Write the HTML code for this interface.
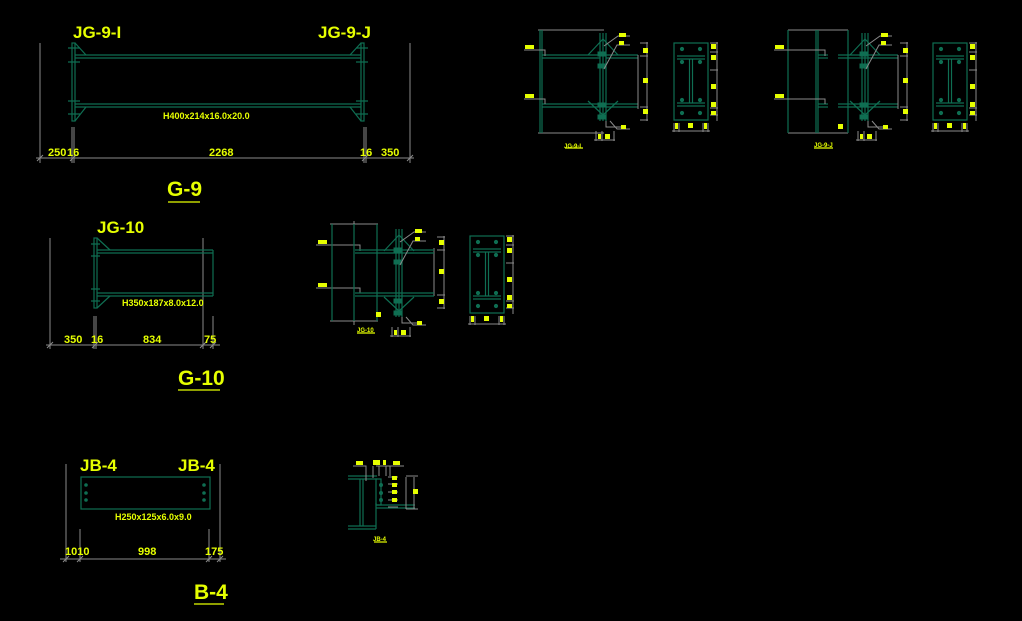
<!DOCTYPE html>
<html><head><meta charset="utf-8"><style>
html,body{margin:0;padding:0;background:#000;width:1022px;height:621px;overflow:hidden}
svg{display:block}
text{font-family:"Liberation Sans",sans-serif;fill:#e6ff00;font-weight:bold}
.g{stroke:#0f6e52;fill:none;stroke-width:1.2}
.gg{stroke:#0f6e52;fill:#0f6e52}
.d{stroke:#8a8a8a;fill:none;stroke-width:1}
.y{fill:#e6ff00}
.u{stroke:#e6ff00;stroke-width:1.2}
</style></head><body>
<svg width="1022" height="621" viewBox="0 0 1022 621">
<defs>
<g id="plate">
 <rect class="g" x="0" y="0" width="34" height="77"/>
 <line class="g" x1="3" y1="13" x2="31" y2="13"/><line class="g" x1="3" y1="16" x2="31" y2="16"/>
 <line class="g" x1="3" y1="60" x2="31" y2="60"/><line class="g" x1="3" y1="63" x2="31" y2="63"/>
 <line class="g" x1="15.5" y1="16" x2="15.5" y2="60"/><line class="g" x1="18.5" y1="16" x2="18.5" y2="60"/>
 <g class="gg"><circle cx="8" cy="6" r="1.6"/><circle cx="26" cy="6" r="1.6"/><circle cx="8" cy="19" r="1.6"/><circle cx="26" cy="19" r="1.6"/><circle cx="8" cy="57" r="1.6"/><circle cx="26" cy="57" r="1.6"/><circle cx="8" cy="70" r="1.6"/><circle cx="26" cy="70" r="1.6"/></g>
 <path class="d" d="M36 0H44M36 9H44M36 27H44M36 65H44M36 72H44M43 -1V78M0 80V89M5 80V89M29 80V89M34 80V89M-2 88H36"/>
 <rect class="y" x="37" y="1" width="5" height="5"/><rect class="y" x="37" y="12" width="5" height="5"/><rect class="y" x="37" y="41" width="5" height="5"/><rect class="y" x="37" y="59" width="5" height="5"/><rect class="y" x="37" y="68" width="5" height="4"/>
 <rect class="y" x="1" y="80" width="3" height="6"/><rect class="y" x="14" y="80" width="5" height="5"/><rect class="y" x="30" y="80" width="3" height="6"/>
</g>
<g id="conn">
 <line class="g" x1="0" y1="0" x2="0" y2="88"/><line class="g" x1="3" y1="0" x2="3" y2="88"/><line class="g" x1="6" y1="0" x2="6" y2="88"/>
 <path class="g" d="M3 6 L-12 22 M3 6 L18 22 M3 82 L-12 68 M3 82 L18 68"/>
 <rect class="gg" x="-2" y="19" width="7" height="4"/><rect class="gg" x="-2" y="31" width="7" height="4"/><rect class="gg" x="-2" y="70" width="7" height="4"/><rect class="gg" x="-2" y="82" width="7" height="4"/>
 <path class="d" d="M4 13 L18 3 H30 M4 36 L17 12 H30 M6 88 V94 H25 M10 88 L17 96 H30"/>
 <rect class="y" x="19" y="0" width="7" height="4"/><rect class="y" x="19" y="8" width="5" height="4"/><rect class="y" x="21" y="92" width="5" height="4"/>
 <rect class="y" x="-2" y="101" width="3" height="5"/><rect class="y" x="5" y="101" width="5" height="5"/>
 <path class="d" d="M-4 98V108M2 98V108M14 98V108M-6 107H15"/>
</g>
</defs>

<text x="73" y="38" font-size="17">JG-9-I</text>
<text x="318" y="38" font-size="17">JG-9-J</text>
<path class="d" d="M40 43V163M410 43V163M72 127V163M74 127V163M364 127V163M366 127V163M36 158H414"/>
<path class="d" d="M37 161L43 155M70 161L76 155M362 161L368 155M407 161L413 155"/>
<rect class="g" x="72" y="43" width="3" height="78"/><rect class="g" x="361" y="43" width="3" height="78"/>
<line class="g" x1="75" y1="55" x2="361" y2="55"/><line class="g" x1="75" y1="58" x2="361" y2="58"/>
<line class="g" x1="75" y1="104" x2="361" y2="104"/><line class="g" x1="75" y1="107" x2="361" y2="107"/>
<path class="g" d="M75 43L86 55M75 121L86 107M361 43L350 55M361 121L350 107"/>
<path class="g" d="M68 48H80M68 62H80M68 101H80M68 114H80M356 48H368M356 62H368M356 101H368M356 114H368"/>
<text x="163" y="119" font-size="9">H400x214x16.0x20.0</text>
<text x="48" y="156" font-size="11">250</text><text x="67" y="156" font-size="11">16</text>
<text x="209" y="156" font-size="11">2268</text><text x="360" y="156" font-size="11">16</text><text x="381" y="156" font-size="11">350</text>
<text x="167" y="196" font-size="21">G-9</text><line class="u" x1="168" y1="202" x2="200" y2="202"/>

<path class="d" d="M538 30H604M538 133H604"/>
<line class="g" x1="540" y1="30" x2="540" y2="133"/><line class="g" x1="542" y1="30" x2="542" y2="133"/>
<line class="g" x1="542" y1="55" x2="600" y2="55"/><line class="g" x1="542" y1="58" x2="600" y2="58"/>
<line class="g" x1="542" y1="104" x2="600" y2="104"/><line class="g" x1="542" y1="107" x2="600" y2="107"/>
<line class="g" x1="606" y1="55" x2="638" y2="55"/><line class="g" x1="606" y1="58" x2="638" y2="58"/>
<line class="g" x1="606" y1="104" x2="638" y2="104"/><line class="g" x1="606" y1="107" x2="638" y2="107"/>
<path class="d" d="M524 50H545V56M524 99H545V104M638 55V109M640 43H648M640 56H648M640 107H648M640 120H648M647 42V121"/>
<rect class="y" x="525" y="45" width="9" height="4"/><rect class="y" x="525" y="94" width="9" height="4"/>
<rect class="y" x="643" y="48" width="5" height="5"/><rect class="y" x="643" y="78" width="5" height="5"/><rect class="y" x="643" y="109" width="5" height="5"/>
<use href="#conn" x="600" y="33"/>
<text x="564" y="148" font-size="6">JG-9-I</text><line class="u" x1="565" y1="148" x2="583" y2="148"/>
<use href="#plate" x="674" y="43"/>

<path class="d" d="M788 30H848M788 133H848"/>
<line class="g" x1="788" y1="30" x2="788" y2="133"/><line class="g" x1="816" y1="30" x2="816" y2="133"/><line class="g" x1="818" y1="30" x2="818" y2="133"/>
<line class="g" x1="818" y1="55" x2="828" y2="55"/><line class="g" x1="818" y1="58" x2="828" y2="58"/>
<line class="g" x1="818" y1="104" x2="828" y2="104"/><line class="g" x1="818" y1="107" x2="828" y2="107"/>
<line class="g" x1="838" y1="55" x2="898" y2="55"/><line class="g" x1="838" y1="58" x2="898" y2="58"/>
<line class="g" x1="838" y1="104" x2="898" y2="104"/><line class="g" x1="838" y1="107" x2="898" y2="107"/>
<line class="g" x1="848" y1="30" x2="848" y2="133"/>
<path class="d" d="M774 50H825V56M774 99H825V104M898 55V109M900 43H908M900 56H908M900 107H908M900 120H908M907 42V121"/>
<rect class="y" x="775" y="45" width="9" height="4"/><rect class="y" x="775" y="94" width="9" height="4"/>
<rect class="y" x="903" y="48" width="5" height="5"/><rect class="y" x="903" y="78" width="5" height="5"/><rect class="y" x="903" y="109" width="5" height="5"/>
<rect class="y" x="838" y="124" width="5" height="5"/>
<use href="#conn" x="862" y="33"/>
<text x="814" y="147" font-size="6">JG-9-J</text><line class="u" x1="814" y1="148" x2="833" y2="148"/>
<use href="#plate" x="933" y="43"/>

<text x="97" y="233" font-size="17">JG-10</text>
<path class="d" d="M50 238V349M203 238V349M213 316V349M94 316V349M96 316V349M46 345H220"/>
<path class="d" d="M47 348L53 342M92 348L98 342M200 348L206 342M210 348L216 342"/>
<rect class="g" x="94" y="238" width="3" height="70"/>
<line class="g" x1="97" y1="250" x2="213" y2="250"/><line class="g" x1="97" y1="253" x2="213" y2="253"/>
<line class="g" x1="97" y1="293" x2="213" y2="293"/><line class="g" x1="97" y1="296" x2="213" y2="296"/>
<line class="g" x1="213" y1="250" x2="213" y2="296"/>
<path class="g" d="M97 238L110 250M97 308L110 296M91 244H100M91 256H100M91 289H100M91 301H100"/>
<text x="122" y="306" font-size="9">H350x187x8.0x12.0</text>
<text x="64" y="343" font-size="11">350</text><text x="91" y="343" font-size="11">16</text>
<text x="143" y="343" font-size="11">834</text><text x="204" y="343" font-size="11">75</text>
<text x="178" y="385" font-size="21">G-10</text><line class="u" x1="178" y1="390" x2="220" y2="390"/>

<path class="d" d="M330 224H378M330 321H378M354 221V325M316 245H360V251M316 288H360V293M434 248V296M437 237H445M437 250H445M437 295H445M437 308H445M444 236V309"/>
<line class="g" x1="332" y1="224" x2="332" y2="321"/><line class="g" x1="377" y1="224" x2="377" y2="321"/>
<line class="g" x1="354" y1="224" x2="354" y2="321"/>
<line class="g" x1="355" y1="250" x2="434" y2="250"/><line class="g" x1="355" y1="253" x2="434" y2="253"/>
<line class="g" x1="355" y1="293" x2="434" y2="293"/><line class="g" x1="355" y1="296" x2="434" y2="296"/>
<rect class="y" x="318" y="240" width="9" height="4"/><rect class="y" x="318" y="283" width="9" height="4"/>
<rect class="y" x="439" y="240" width="5" height="5"/><rect class="y" x="439" y="269" width="5" height="5"/><rect class="y" x="439" y="299" width="5" height="5"/>
<rect class="y" x="376" y="312" width="5" height="5"/>
<use href="#conn" x="396" y="229"/>
<text x="357" y="332" font-size="6">JG-10</text><line class="u" x1="357" y1="333" x2="375" y2="333"/>
<use href="#plate" x="470" y="236"/>

<text x="80" y="471" font-size="17">JB-4</text><text x="178" y="471" font-size="17">JB-4</text>
<rect class="g" x="81" y="477" width="129" height="32"/>
<g class="gg"><circle cx="86" cy="485" r="1.3"/><circle cx="86" cy="493" r="1.3"/><circle cx="86" cy="500" r="1.3"/><circle cx="204" cy="485" r="1.3"/><circle cx="204" cy="493" r="1.3"/><circle cx="204" cy="500" r="1.3"/></g>
<text x="115" y="520" font-size="9">H250x125x6.0x9.0</text>
<path class="d" d="M66 464V562M220 464V562M80 529V562M209 529V562M60 559H226"/>
<path class="d" d="M63 562L69 556M77 562L83 556M206 562L212 556M217 562L223 556"/>
<text x="65" y="555" font-size="11">1010</text><text x="138" y="555" font-size="11">998</text><text x="205" y="555" font-size="11">175</text>
<text x="194" y="599" font-size="21">B-4</text><line class="u" x1="194" y1="604" x2="224" y2="604"/>

<line class="g" x1="348" y1="476" x2="377" y2="476"/><line class="g" x1="348" y1="479" x2="377" y2="479"/>
<line class="g" x1="360" y1="479" x2="360" y2="526"/><line class="g" x1="363" y1="479" x2="363" y2="526"/>
<line class="g" x1="348" y1="526" x2="376" y2="526"/><line class="g" x1="348" y1="529" x2="376" y2="529"/>
<line class="g" x1="376" y1="503" x2="376" y2="529"/>
<line class="g" x1="376" y1="505" x2="415" y2="505"/><line class="g" x1="376" y1="508" x2="415" y2="508"/>
<rect class="g" x="376" y="479" width="5" height="26"/>
<g class="gg"><circle cx="381" cy="485" r="1.5"/><circle cx="381" cy="493" r="1.5"/><circle cx="381" cy="500" r="1.5"/></g>
<path class="d" d="M353 466H366V481M373 466V478M376 466H404M379 466V476M386 466V476M390 466V476M388 477H398M388 484H398M388 492H398M388 500H398M388 507H398M406 477V509M414 477V509M406 476H418M406 509H418"/>
<rect class="y" x="356" y="461" width="7" height="4"/><rect class="y" x="373" y="460" width="7" height="5"/><rect class="y" x="383" y="460" width="3" height="5"/><rect class="y" x="393" y="461" width="7" height="4"/>
<rect class="y" x="392" y="476" width="5" height="4"/><rect class="y" x="392" y="483" width="5" height="4"/><rect class="y" x="392" y="490" width="5" height="4"/><rect class="y" x="392" y="498" width="5" height="4"/>
<rect class="y" x="413" y="489" width="5" height="5"/>
<text x="373" y="541" font-size="6">JB-4</text><line class="u" x1="374" y1="542" x2="387" y2="542"/>
</svg>
</body></html>
